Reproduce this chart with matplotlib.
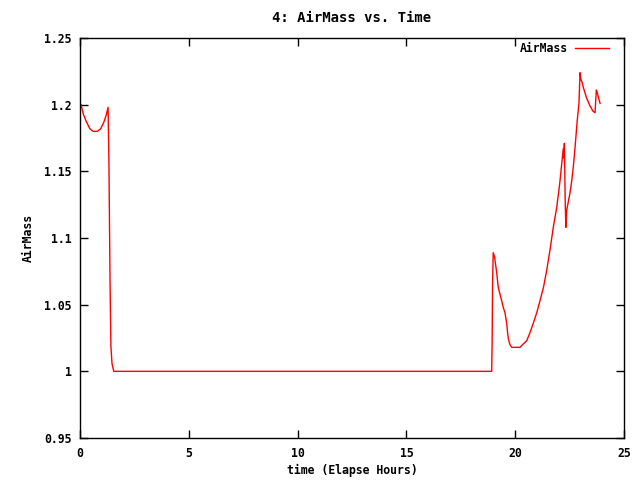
import matplotlib
matplotlib.use("Agg")
import matplotlib.pyplot as plt

# elapsed hours and airmass
hours = [
    0.05, 0.15, 0.30, 0.45, 0.60, 0.80, 0.95, 1.10, 1.20, 1.29,
    1.33, 1.38, 1.42, 1.47, 1.55, 5.0, 10.0, 15.0, 18.92,
    18.94, 18.96, 18.99, 19.05, 19.15, 19.22, 19.30, 19.38, 19.45, 19.53,
    19.61, 19.65, 19.69, 19.76, 19.84, 20.00, 20.22, 20.37, 20.53, 20.68,
    20.83, 20.99, 21.14, 21.30, 21.45, 21.60, 21.75, 21.91, 22.06, 22.14,
    22.21, 22.23, 22.26, 22.30, 22.33, 22.37, 22.45, 22.52, 22.60, 22.68,
    22.75, 22.85, 22.93, 22.96, 22.98, 23.02, 23.07, 23.13, 23.28, 23.44,
    23.58, 23.67, 23.70, 23.73, 23.77, 23.90,
]
airmass = [
    1.200, 1.193, 1.187, 1.182, 1.180, 1.180, 1.182, 1.187, 1.192, 1.198,
    1.156, 1.068, 1.019, 1.006, 1.000, 1.000, 1.000, 1.000, 1.000,
    1.022, 1.066, 1.089, 1.086, 1.074, 1.063, 1.058, 1.053, 1.048, 1.044,
    1.036, 1.029, 1.024, 1.020, 1.018, 1.018, 1.018, 1.0205, 1.023, 1.029,
    1.036, 1.044, 1.053, 1.063, 1.076, 1.091, 1.108, 1.123, 1.143, 1.156,
    1.167, 1.160, 1.171, 1.125, 1.108, 1.121, 1.128, 1.134, 1.143, 1.155,
    1.168, 1.188, 1.201, 1.215, 1.224, 1.219, 1.217, 1.213, 1.205, 1.199,
    1.195, 1.194, 1.203, 1.211, 1.209, 1.201,
]

x_ticks = [0, 5, 10, 15, 20, 25]
y_ticks = [0.95, 1.0, 1.05, 1.1, 1.15, 1.2, 1.25]
y_tick_labels = ["0.95", "1", "1.05", "1.1", "1.15", "1.2", "1.25"]

plt.rcParams["font.family"] = ["DejaVu Sans Mono"]
plt.rcParams["font.weight"] = "bold"
plt.rcParams["font.size"] = 8.3

fig = plt.figure(figsize=(6.4, 4.8), dpi=100)
ax = fig.add_axes([0.125, 0.0875, 0.85, 0.8333])

ax.plot(hours, airmass, color="#ff0000", linewidth=1.0, label="AirMass")

ax.set_xlim(0, 25)
ax.set_ylim(0.95, 1.25)
ax.set_xticks(x_ticks)
ax.set_xticklabels([str(t) for t in x_ticks])
ax.set_yticks(y_ticks)
ax.set_yticklabels(y_tick_labels)
ax.tick_params(direction="in", length=6, width=1, top=True, right=True)
ax.tick_params(axis="x", pad=6.5)
ax.tick_params(axis="y", pad=6)
for s in ax.spines.values():
    s.set_linewidth(1.0)

ax.set_title("4: AirMass vs. Time", pad=11.5, fontweight="bold")
ax.set_xlabel("time (Elapse Hours)", labelpad=3, fontweight="bold")
ax.set_ylabel("AirMass", labelpad=7, fontweight="bold")

ax.legend(loc="upper right", bbox_to_anchor=(0.972, 0.989), frameon=False,
          markerfirst=False, handlelength=2.9, handletextpad=0.6,
          borderpad=0, borderaxespad=0)

fig.savefig("out.png", dpi=100)
plt.close(fig)
